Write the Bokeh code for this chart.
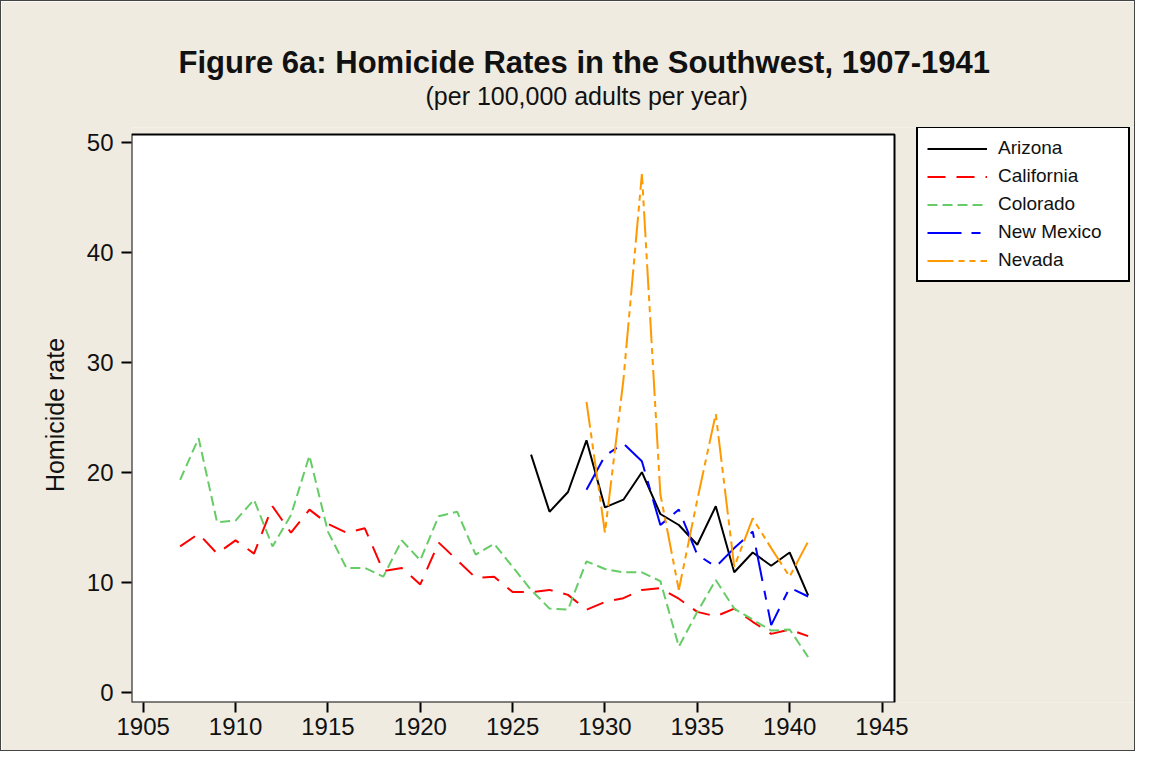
from bokeh.plotting import figure
from bokeh.models import Range1d, FixedTicker, Legend, LegendItem, Title, BoxAnnotation
from bokeh.embed import file_html
from bokeh.resources import INLINE

# ---------------- data ----------------
years_california = list(range(1907, 1942))
california = [13.25, 14.4, 12.6, 13.8, 12.6, 16.9, 14.5, 16.6, 15.3, 14.5,
              14.9, 11.0, 11.3, 9.8, 13.6, 12.0, 10.4, 10.5, 9.1, 9.1,
              9.3, 8.85, 7.5, 8.2, 8.55, 9.3, 9.45, 8.5, 7.3, 6.9,
              7.6, 6.4, 5.3, 5.7, 5.1]

years_colorado = list(range(1907, 1942))
colorado = [19.3, 23.1, 15.45, 15.6, 17.5, 13.25, 16.1, 21.5, 14.6, 11.3,
            11.3, 10.5, 13.8, 12.0, 16.0, 16.4, 12.5, 13.5, 11.4, 9.3,
            7.6, 7.5, 11.9, 11.2, 10.9, 10.9, 10.1, 4.15, 7.3, 10.2,
            7.6, 6.6, 5.6, 5.7, 3.2]

years_arizona = list(range(1926, 1942))
arizona = [21.6, 16.4, 18.2, 22.9, 16.8, 17.5, 20.0, 16.2, 15.2, 13.4,
           16.9, 10.9, 12.7, 11.5, 12.7, 8.8]

years_new_mexico = list(range(1929, 1942))
new_mexico = [18.4, 21.5, 22.6, 21.0, 15.2, 16.6, 12.5, 11.4, 13.1, 14.6,
              6.1, 9.5, 8.7]

years_nevada = list(range(1929, 1942))
nevada = [26.4, 14.5, 28.4, 47.1, 18.0, 9.3, 17.5, 25.3, 11.4, 15.8,
          13.1, 10.5, 13.7]

x_ticks = [1905, 1910, 1915, 1920, 1925, 1930, 1935, 1940, 1945]
y_ticks = [0, 10, 20, 30, 40, 50]

title_text = "Figure 6a: Homicide Rates in the Southwest, 1907-1941"
subtitle_text = "(per 100,000 adults per year)"
y_label = "Homicide rate"

# ---------------- layout ----------------
FONT = "Liberation Sans"
BG = "#EFEBE1"
W, H = 1135, 751
BOX_L, BOX_R, BOX_T, BOX_B = 130, 893, 133, 701   # white plot box (canvas px)
FRAME_T = 126                                      # frame top (a bit above the box)

PX_PER_YEAR = 18.47       # pixels per year on the reference
PX_PER_UNIT = 11.0        # pixels per homicide-rate unit
X0_PX, Y0_PX = 141.7, 690.7   # pixel of x=1905, y=0
def xd(px):
    return 1905 + (px - X0_PX) / PX_PER_YEAR
def yd(py):
    return (Y0_PX - py) / PX_PER_UNIT

# the frame extends to the right edge so that the legend can live inside it
p = figure(width=W, height=H, output_backend="svg", toolbar_location=None,
           x_range=Range1d(xd(BOX_L), xd(W)),
           y_range=Range1d(yd(BOX_B), yd(FRAME_T)),
           min_border_left=BOX_L, min_border_right=0,
           min_border_top=FRAME_T, min_border_bottom=H - BOX_B)

p.background_fill_color = BG
p.border_fill_color = BG
p.outline_line_color = None
p.xgrid.visible = False
p.ygrid.visible = False
p.styles = {"border": "1px solid #444"}

# white plot box with black border
box = BoxAnnotation(left=xd(BOX_L), right=xd(BOX_R), bottom=yd(BOX_B), top=yd(BOX_T),
                    fill_color="white", fill_alpha=1.0,
                    line_color="black", line_alpha=1.0, line_width=2,
                    level="underlay")
p.add_layout(box)

p.xaxis.ticker = FixedTicker(ticks=x_ticks)
p.yaxis.ticker = FixedTicker(ticks=y_ticks)
for ax in (p.xaxis[0], p.yaxis[0]):
    ax.axis_line_color = None
    ax.major_tick_line_width = 2
    ax.major_tick_line_color = "black"
    ax.major_tick_out = 10
    ax.major_tick_in = 0
    ax.minor_tick_line_color = None
    ax.major_label_text_font = FONT
    ax.major_label_text_font_size = "24px"
    ax.major_label_text_color = "#111111"
p.xaxis.major_label_standoff = 5
p.yaxis.major_label_standoff = 8
p.yaxis.axis_label = y_label
p.yaxis.axis_label_text_font = FONT
p.yaxis.axis_label_text_font_style = "normal"
p.yaxis.axis_label_text_font_size = "25px"
p.yaxis.axis_label_text_color = "#111111"
p.yaxis.axis_label_standoff = 15

lw = 2
r_az = p.line(years_arizona, arizona, line_color="black", line_width=lw)
r_ca = p.line(years_california, california, line_color="#FF0000", line_width=lw,
              line_dash="18 11")
r_co = p.line(years_colorado, colorado, line_color="#66CC66", line_width=lw,
              line_dash="10 5")
r_nm = p.line(years_new_mexico, new_mexico, line_color="#0000FF", line_width=lw,
              line_dash="34 10 9 10")
r_nv = p.line(years_nevada, nevada, line_color="#FF9900", line_width=lw,
              line_dash="26 5 6 5 6 5")

legend = Legend(items=[
    LegendItem(label="Arizona", renderers=[r_az]),
    LegendItem(label="California", renderers=[r_ca]),
    LegendItem(label="Colorado", renderers=[r_co]),
    LegendItem(label="New Mexico", renderers=[r_nm]),
    LegendItem(label="Nevada", renderers=[r_nv]),
], location=(915 - BOX_L, BOX_B - 281))
legend.border_line_color = "black"
legend.border_line_alpha = 1.0
legend.border_line_width = 2
legend.background_fill_color = "white"
legend.background_fill_alpha = 1.0
legend.label_text_font = FONT
legend.label_text_font_size = "19px"
legend.label_text_color = "#111111"
legend.glyph_width = 60
legend.glyph_height = 21
legend.label_height = 21
legend.label_width = 121
legend.label_standoff = 11
legend.padding = 9
legend.spacing = 6
legend.margin = 0
p.add_layout(legend)

# subtitle (closest to the frame) then the main title above it
sub = Title(text=subtitle_text, text_font=FONT, text_font_size="25px",
            text_font_style="normal", text_color="#111111",
            align="left", offset=294, vertical_align="middle", standoff=34)
main = Title(text=title_text, text_font=FONT, text_font_size="31px",
             text_font_style="bold", text_color="#111111",
             align="left", offset=47, vertical_align="bottom", standoff=-32)
p.add_layout(sub, "above")
p.add_layout(main, "above")

open("out.html", "w").write(file_html(p, INLINE))
